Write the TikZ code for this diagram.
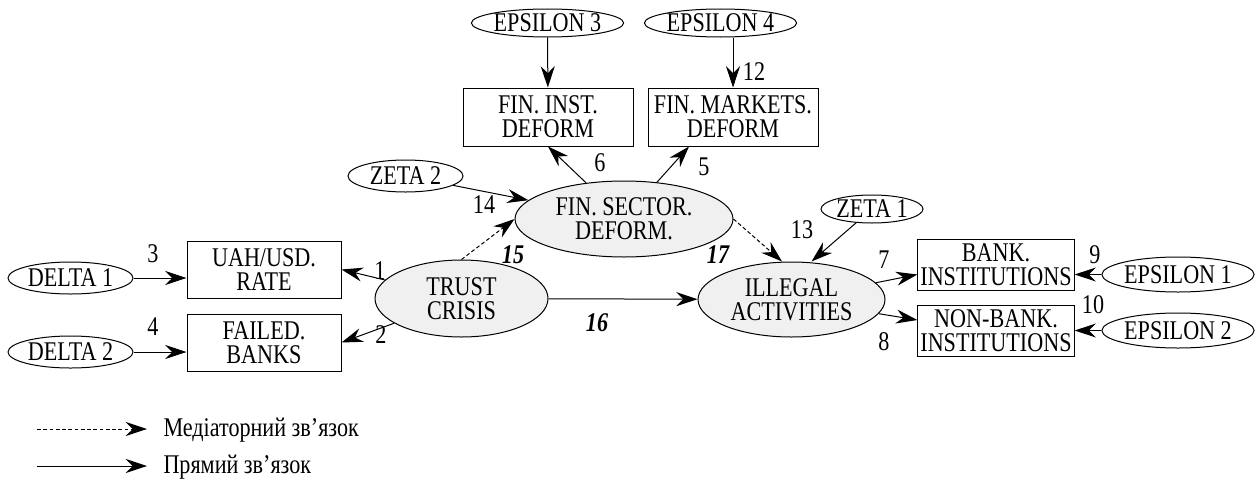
\documentclass[tikz,border=0pt]{standalone}
\usepackage{fontspec}
\setmainfont{Liberation Serif}[FakeStretch=0.82]
\usetikzlibrary{
    shapes.geometric,
    arrows.meta,
    positioning
}

\begin{document}
\begin{tikzpicture}[
    x=0.4pt, y=-0.4pt,
    >={Stealth[length=8.5pt, width=5.6pt, inset=2.8pt]},
    every text node part/.style={align=center},
    every node/.style={font=\fontsize{10.8pt}{9.6pt}\selectfont},
    factor/.style={ellipse, draw=black, line width=0.4pt, inner sep=0pt},
    latent/.style={ellipse, draw=black, line width=0.4pt, fill=black!6, inner sep=0pt},
    block/.style={rectangle, draw=black, line width=0.4pt, inner sep=1pt},
    num/.style={inner sep=1pt},
    effect/.style={inner sep=1pt, font=\fontsize{10.8pt}{9.6pt}\selectfont\bfseries\itshape},
    link/.style={draw=black, line width=0.4pt, ->},
    mediator/.style={link, dash pattern=on 1.5pt off 1pt}
]
\useasboundingbox (0,0) rectangle (1257,480);

% ==================== TOP: FIN. SECTOR ====================
\node[factor, minimum width=56.4pt, minimum height=11.2pt] (epsthree) at (547.5,23) {EPSILON 3};
\node[factor, minimum width=56.4pt, minimum height=11.2pt] (epsfour) at (720.5,23) {EPSILON 4};
\node[block, minimum width=68pt, minimum height=23.2pt] (fininst) at (548,117) {FIN. INST.\\DEFORM};
\node[block, minimum width=68pt, minimum height=23.2pt, right=5.6pt of fininst] (finmkt) {FIN. MARKETS.\\DEFORM};
\node[latent, minimum width=87.2pt, minimum height=30.4pt] (finsector) at (624,219) {FIN. SECTOR.\\DEFORM.};
\node[factor, minimum width=46pt, minimum height=12.8pt] (zetatwo) at (405.5,176) {ZETA 2};

\draw[link] (epsthree) -- (fininst);
\draw[link] (epsfour.south -| finmkt) -- (finmkt.north);
\draw[link] (finsector) -- (fininst.south);
\draw[link] (finsector) -- ([xshift=-17.6pt]finmkt.south);
\draw[link] (zetatwo) -- (finsector);

% ==================== LEFT: TRUST CRISIS ====================
\node[latent, minimum width=69.2pt, minimum height=30.8pt] (trust) at (461.5,298.5) {TRUST\\CRISIS};
\node[block, minimum width=61.6pt, minimum height=22.8pt] (uah) at (264,269.5) {UAH/USD.\\RATE};
\node[block, minimum width=61.6pt, minimum height=22.8pt, below=6pt of uah] (failed) {FAILED.\\BANKS};
\node[factor, minimum width=50pt, minimum height=12.8pt] (deltaone) at (70.5,278) {DELTA 1};
\node[factor, minimum width=50pt, minimum height=12.8pt, below=16.4pt of deltaone] (deltatwo) {DELTA 2};

\draw[link] (trust) -- (uah.east);
\draw[link] (trust) -- (failed.east);
\draw[link] (deltaone.east) -- (deltaone.east -| uah.west);
\draw[link] (deltatwo.east) -- (deltatwo.east -| failed.west);

% ==================== RIGHT: ILLEGAL ACTIVITIES ====================
\node[latent, minimum width=74.8pt, minimum height=30pt] (illegal) at (791.5,299.5) {ILLEGAL\\ACTIVITIES};
\node[factor, minimum width=40.8pt, minimum height=11.2pt] (zetaone) at (872,209) {ZETA 1};
\node[block, minimum width=61.6pt, minimum height=20.4pt] (bank) at (996,264.5) {BANK.\\INSTITUTIONS};
\node[block, minimum width=61.6pt, minimum height=20.4pt, below=5.6pt of bank] (nonbank) {NON-BANK.\\INSTITUTIONS};
\node[factor, minimum width=56.8pt, minimum height=14pt] (epsone) at (1178,274.5) {EPSILON 1};
\node[factor, minimum width=56.8pt, minimum height=14pt, below=8pt of epsone] (epstwo) {EPSILON 2};

\draw[link] (trust) -- (illegal);
\draw[mediator] (trust.north) -- (finsector.west);
\draw[mediator] (finsector.east) -- ([xshift=-3.8pt]illegal.north);
\draw[link] (zetaone) -- ([xshift=8pt]illegal.north);
\draw[link] (illegal) -- ([yshift=-4pt]bank.west);
\draw[link] (illegal) -- ([yshift=4.2pt]nonbank.west);
\draw[link] (epsone.west) -- (epsone.west -| bank.east);
\draw[link] (epstwo.west) -- (epstwo.west -| nonbank.east);

% ==================== PATH NUMBERS ====================
\node[num] (lone) at (380,271) {1};
\node[num] (ltwo) at (381,335) {2};
\node[num] (lthree) at (153,254) {3};
\node[num] (lfour) at (153,327) {4};
\node[num] (lfive) at (704,167) {5};
\node[num] (lsix) at (600,163) {6};
\node[num] (lseven) at (884,260) {7};
\node[num] (leight) at (884,342) {8};
\node[num] (lnine) at (1095,255) {9};
\node[num] (lten) at (1093,305) {10};
\node[num] (ltwelve) at (754,72) {12};
\node[num] (lthirteen) at (802,230) {13};
\node[num] (lfourteen) at (484,205) {14};
\node[effect] (lfifteen) at (513,255) {15};
\node[effect] (lsixteen) at (597,323) {16};
\node[effect] (lseventeen) at (718,255) {17};

% ==================== LEGEND ====================
\coordinate (medstart) at (37,429);
\coordinate (medend) at (147,429);
\node[anchor=base west, inner sep=0pt] (medtext) at (163,436.7) {Медіаторний зв’язок};
\draw[mediator] (medstart) -- (medend);

\coordinate (dirstart) at (37,466);
\coordinate (dirend) at (147,466);
\node[anchor=base west, inner sep=0pt] (dirtext) at (163,473.5) {Прямий зв’язок};
\draw[link] (dirstart) -- (dirend);

\end{tikzpicture}
\end{document}
